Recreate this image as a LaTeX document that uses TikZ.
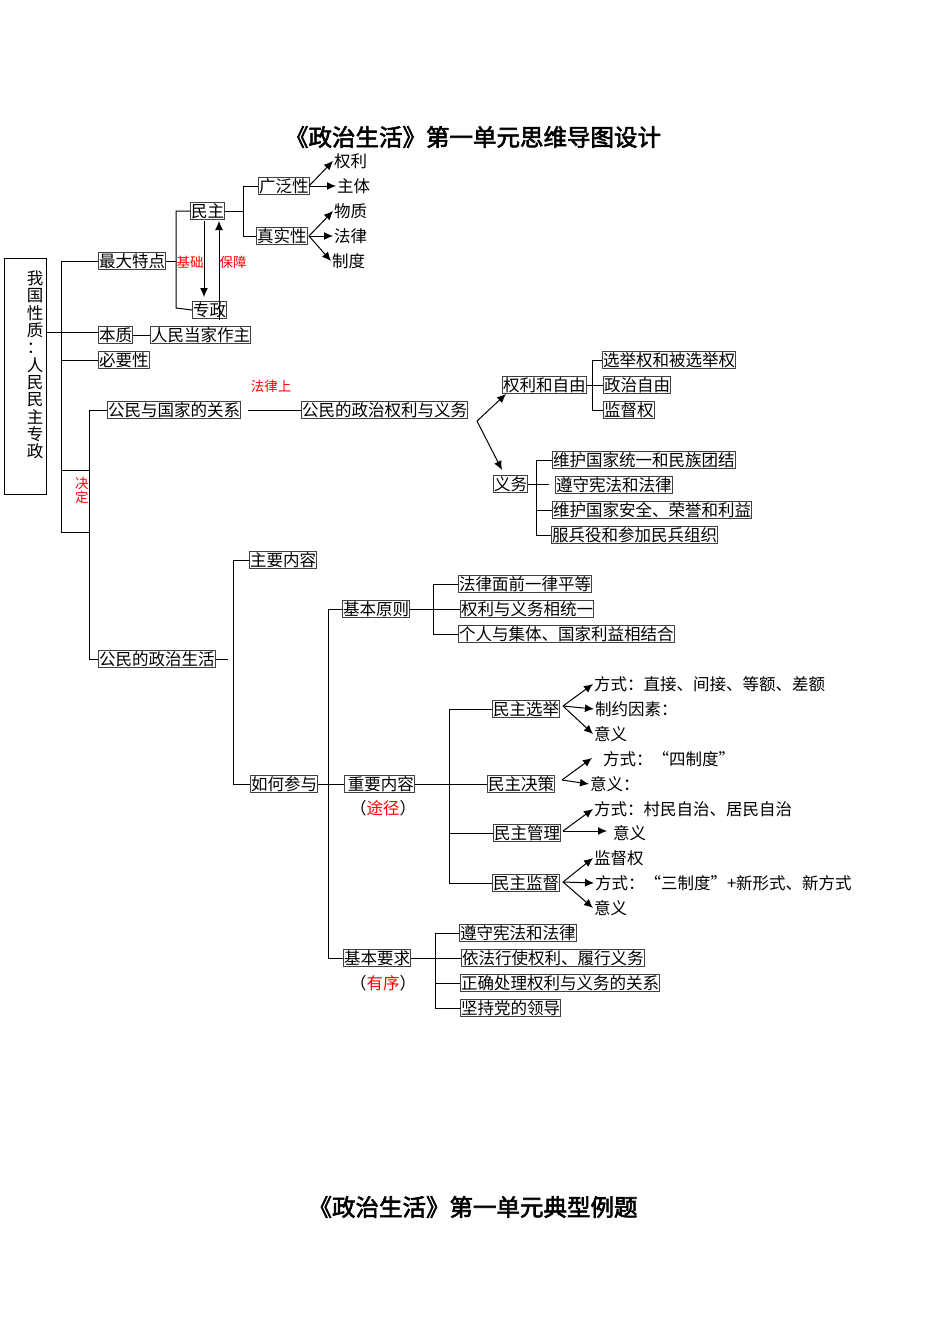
\documentclass[tikz,border=0pt]{standalone}
\usepackage{fontspec}
\setmainfont{Noto Sans CJK SC}[BoldFont={Noto Sans CJK SC},BoldFeatures={FakeBold=2.5}]
\usetikzlibrary{arrows.meta}
\begin{document}
\begin{tikzpicture}[x=1pt,y=-1pt,line width=1pt,
  every node/.style={font=\fontsize{16.5}{17}\selectfont,inner sep=0.5pt},
  bx/.style={draw=black!75,anchor=west},
  tx/.style={anchor=west},
  red/.style={text=red,font=\fontsize{13.5}{14}\selectfont},
  ar/.style={-{Latex[length=9pt,width=8pt]}},
  ttl/.style={font=\fontsize{23.5}{25}\selectfont\bfseries}]
\useasboundingbox (0,0) rectangle (950,1344);
\node[ttl] (t1) at (473,137) {《政治生活》第一单元思维导图设计};
\node[ttl] (t2) at (473,1207) {《政治生活》第一单元典型例题};
% left box
\node[draw,minimum width=42pt,minimum height=236pt,anchor=north west,inner sep=0pt] (root) at (4,258) {};
\node[text width=1em,align=center,font=\fontsize{16.5}{17.3}\selectfont] (rt) at (32,365) {我\\国\\性\\质\\：\\人\\民\\民\\主\\专\\政};
% trunk
\coordinate (tA) at (61,261); \coordinate (tB) at (61,532);
\draw (tA) -- (tB);
\draw (61,470) -- (89,470);
\draw (61,532) -- (89,532);
\draw (89,410) -- (89,659);
\node[red,text width=1em,align=center] (jd) at (80,490) {决\\定};
% top branches
\node[bx] (zd) at (98,261) {最大特点};
\node[bx] (bz) at (98,335) {本质};
\node[bx] (rm) at (150,335) {人民当家作主};
\node[bx] (by) at (98,360) {必要性};
\draw (tA) -- (zd.west);
\draw (root.east |- 0,332) -- (98,332);
\draw (61,360) -- (by.west);
\draw (bz.east) -- (rm.west);
\node[bx] (mz) at (190,211) {民主};
\node[bx] (zz) at (192,310) {专政};
\draw (zd.east) -- (176,261);
\draw (mz.west) -- (176,211) -- (176,308) -- (zz.west);
\draw[ar] (204,221) -- (204,297);
\draw[ar] (219,320) -- (219,221);
\node[red] (jc) at (190,262) {基础};
\node[red] (bzh) at (233,262) {保障};
\node[bx] (gf) at (258,186) {广泛性};
\node[bx] (zs) at (256,236) {真实性};
\draw (mz.east) -- (243,211);
\draw (gf.west) -- (243,186) -- (243,236) -- (zs.west);
\node[tx] (ql) at (333,161) {权利};
\node[tx] (zt) at (336,186) {主体};
\node[tx] (wz) at (333,211) {物质};
\node[tx] (fl) at (333,236) {法律};
\node[tx] (zdu) at (331,261) {制度};
\draw[ar] (309,186) -- (ql.west);
\draw[ar] (309,186) -- (zt.west);
\draw[ar] (309,236) -- (wz.west);
\draw[ar] (309,236) -- (fl.west);
\draw[ar] (309,236) -- (zdu.west);
% citizen-state
\node[red] (flsh) at (271,386) {法律上};
\node[bx] (gmgj) at (107,410) {公民与国家的关系};
\draw (89,410) -- (gmgj.west);
\node[bx] (qlyw) at (301,410) {公民的政治权利与义务};
\draw (248,410) -- (qlyw.west);
\node[bx] (qlzy) at (502,385) {权利和自由};
\node[bx] (yw) at (493,484) {义务};
\coordinate (sp) at (477,421);
\draw[ar] (sp) -- (506,394);
\draw[ar] (sp) -- (502,470);
\node[bx] (a1) at (602,360) {选举权和被选举权};
\node[bx] (a2) at (603,385) {政治自由};
\node[bx] (a3) at (603,410) {监督权};
\draw (qlzy.east) -- (a2.west);
\draw (a1.west) -- (592,360) -- (592,410) -- (a3.west);
\node[bx] (b1) at (552,460) {维护国家统一和民族团结};
\node[bx] (b2) at (555,485) {遵守宪法和法律};
\node[bx] (b3) at (552,510) {维护国家安全、荣誉和利益};
\node[bx] (b4) at (551,535) {服兵役和参加民兵组织};
\draw (yw.east) -- (549,484);
\draw (b1.west) -- (536,460) -- (536,535) -- (b4.west);
\draw (536,510) -- (b3.west);
% political life
\node[bx] (zzsh) at (98,659) {公民的政治生活};
\draw (89,659) -- (zzsh.west);
\draw (zzsh.east) -- (228,659);
\node[bx] (zynr) at (249,560) {主要内容};
\node[bx] (rhcy) at (250,784) {如何参与};
\draw (zynr.west) -- (233,560) -- (233,784) -- (rhcy.west);
\node[bx] (jbyz) at (342,609) {基本原则};
\node[bx] (zynr2) at (344,784) {\,重要内容};
\node[bx] (jbyq) at (343,958) {基本要求};
\node (tj) at (383,808) {（\textcolor{red}{途径}）};
\node (yx) at (383,983) {（\textcolor{red}{有序}）};
\draw (rhcy.east) -- (zynr2.west);
\draw (jbyz.west) -- (328,609) -- (328,958) -- (jbyq.west);
\node[bx] (c1) at (458,584) {法律面前一律平等};
\node[bx] (c2) at (460,609) {权利与义务相统一};
\node[bx] (c3) at (458,634) {个人与集体、国家利益相结合};
\draw (jbyz.east) -- (c2.west);
\draw (c1.west) -- (433,584) -- (433,634) -- (c3.west);
\node[bx] (d1) at (492,709) {民主选举};
\node[bx] (d2) at (487,784) {民主决策};
\node[bx] (d3) at (493,833) {民主管理};
\node[bx] (d4) at (492,883) {民主监督};
\draw (zynr2.east) -- (d2.west);
\draw (d1.west) -- (449,709) -- (449,883) -- (d4.west);
\draw (449,833) -- (d3.west);
\node[tx] (e1) at (593,684) {方式：直接、间接、等额、差额};
\node[tx] (e2) at (594,709) {制约因素：};
\node[tx] (e3) at (593,734) {意义};
\draw[ar] (563,706) -- (e1.west);
\draw[ar] (563,706) -- (e2.west);
\draw[ar] (563,706) -- (e3.west);
\node[tx] (f1) at (602,759) {方式：“四制度”};
\node[tx] (f2) at (589,784) {意义：};
\draw[ar] (562,780) -- (592,758);
\draw[ar] (562,780) -- (f2.west);
\node[tx] (g1) at (593,809) {方式：村民自治、居民自治};
\node[tx] (g2) at (612,833) {意义};
\draw[ar] (563,831) -- (g1.west);
\draw[ar] (563,831) -- (607,831);
\node[tx] (h1) at (593,858) {监督权};
\node[tx] (h2) at (594,883) {方式：“三制度”+新形式、新方式};
\node[tx] (h3) at (593,908) {意义};
\draw[ar] (563,882) -- (h1.west);
\draw[ar] (563,882) -- (h2.west);
\draw[ar] (563,882) -- (h3.west);
\node[bx] (k1) at (459,933) {遵守宪法和法律};
\node[bx] (k2) at (461,958) {依法行使权利、履行义务};
\node[bx] (k3) at (460,983) {正确处理权利与义务的关系};
\node[bx] (k4) at (460,1008) {坚持党的领导};
\draw (jbyq.east) -- (k2.west);
\draw (k1.west) -- (435,933) -- (435,1008) -- (k4.west);
\draw (435,983) -- (k3.west);
\end{tikzpicture}
\end{document}
